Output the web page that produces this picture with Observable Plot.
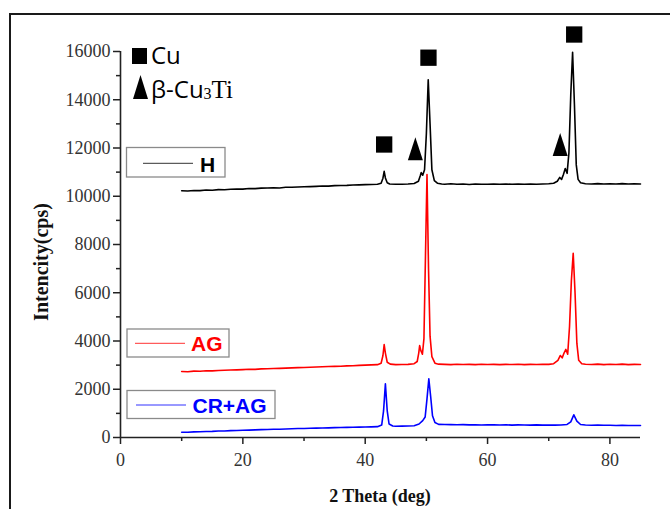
<!DOCTYPE html>
<html>
<head>
<meta charset="utf-8">
<script src="https://cdn.jsdelivr.net/npm/d3@7"></script>
<script src="https://cdn.jsdelivr.net/npm/@observablehq/plot@0.6"></script>
<style>
  html, body { margin: 0; padding: 0; background: #fff; }
  #wrap { position: relative; width: 670px; height: 509px; overflow: hidden; background: #fff; }
  #frame { position: absolute; left: 9px; top: 13px; width: 720px; height: 560px; border: 2px solid #1a1a1a; box-sizing: border-box; pointer-events: none; }
  #chart { position: absolute; left: 0; top: 0; }
</style>
</head>
<body>
<div id="wrap"><div id="chart"></div><div id="frame"></div></div>
<script>
// ---- data ----
const xTicks = [0, 20, 40, 60, 80];
const xMinorTicks = [10, 30, 50, 70];
const yTicks = [0, 2000, 4000, 6000, 8000, 10000, 12000, 14000, 16000];
const yMinorTicks = [1000, 3000, 5000, 7000, 9000, 11000, 13000, 15000];

const seriesNames = ["H", "AG", "CR+AG"];
const seriesColors = ["#000000", "#ff0000", "#0000ff"];

// H (black): [2θ deg, intensity cps]
const hPoints = [[10,10230],[11,10215],[12,10240],[13,10235],[14,10260],[15,10250],[16,10275],[17,10270],[18,10290],[19,10300],[20,10295],[21,10320],[22,10315],[23,10335],[24,10340],[25,10350],[26,10345],[27,10370],[28,10375],[29,10385],[30,10395],[31,10400],[32,10410],[33,10425],[34,10420],[35,10440],[36,10445],[37,10450],[38,10465],[39,10470],[40,10480],[41,10490],[42,10495],[42.6,10540],[42.9,10750],[43.1,11030],[43.3,10760],[43.6,10560],[44,10510],[45,10495],[46,10500],[47,10510],[48,10530],[48.7,10620],[49.0,10850],[49.15,10980],[49.4,10870],[49.7,11100],[50.0,12600],[50.3,14830],[50.6,13000],[50.9,11100],[51.3,10650],[51.8,10540],[52.5,10510],[53,10500],[54,10515],[55,10495],[56,10505],[57,10490],[58,10510],[59,10500],[60,10495],[61,10510],[62,10500],[63,10505],[64,10495],[65,10510],[66,10500],[67,10505],[68,10495],[69,10510],[70,10520],[70.8,10540],[71.4,10620],[71.8,10780],[72.1,10700],[72.4,10900],[72.7,11150],[73.0,10950],[73.3,11800],[73.6,14200],[73.9,15970],[74.2,13800],[74.5,11300],[74.8,10700],[75.2,10560],[76,10520],[77,10510],[78,10525],[79,10505],[80,10520],[81,10510],[82,10525],[83,10505],[84,10515],[85,10510]];

// AG (red)
const agPoints = [[10,2735],[11,2725],[12,2750],[13,2745],[14,2765],[15,2760],[16,2780],[17,2790],[18,2800],[19,2805],[20,2815],[21,2830],[22,2825],[23,2845],[24,2850],[25,2860],[26,2865],[27,2875],[28,2885],[29,2895],[30,2900],[31,2915],[32,2920],[33,2930],[34,2940],[35,2950],[36,2955],[37,2970],[38,2975],[39,2990],[40,3000],[41,3010],[42,3020],[42.6,3080],[42.9,3400],[43.1,3850],[43.3,3500],[43.6,3120],[44.1,3040],[45,3020],[46,3025],[47,3030],[48,3060],[48.5,3150],[48.75,3500],[48.9,3810],[49.1,3600],[49.35,3450],[49.6,4100],[49.85,7500],[50.1,10900],[50.35,7000],[50.6,4200],[50.9,3350],[51.4,3080],[52,3040],[53,3030],[54,3020],[55,3035],[56,3025],[57,3030],[58,3020],[59,3035],[60,3025],[61,3030],[62,3020],[63,3030],[64,3025],[65,3035],[66,3020],[67,3030],[68,3025],[69,3035],[70,3030],[70.8,3060],[71.5,3200],[71.9,3400],[72.2,3300],[72.5,3500],[72.8,3650],[73.1,3450],[73.4,4600],[73.7,6500],[74.0,7640],[74.3,6000],[74.6,3900],[74.9,3200],[75.4,3060],[76,3035],[77,3025],[78,3040],[79,3020],[80,3035],[81,3025],[82,3040],[83,3020],[84,3030],[85,3025]];

// CR+AG (blue)
const crPoints = [[10,220],[11,215],[12,235],[13,240],[14,250],[15,255],[16,270],[17,270],[18,285],[19,290],[20,300],[21,305],[22,315],[23,325],[24,330],[25,340],[26,345],[27,355],[28,360],[29,370],[30,375],[31,385],[32,390],[33,395],[34,400],[35,410],[36,415],[37,420],[38,425],[39,430],[40,435],[41,440],[42,450],[42.7,520],[43.0,1100],[43.3,2225],[43.6,1100],[43.9,560],[44.5,480],[45,465],[46,470],[47,475],[48,490],[48.8,560],[49.4,700],[49.8,850],[50.1,1600],[50.4,2430],[50.7,1700],[51.0,900],[51.4,620],[52,545],[53,540],[54,535],[55,530],[56,535],[57,525],[58,530],[59,520],[60,525],[61,530],[62,520],[63,525],[64,515],[65,525],[66,520],[67,515],[68,525],[69,515],[70,520],[71,515],[72,520],[73,540],[73.6,650],[74.1,940],[74.6,680],[75.2,540],[76,520],[77,510],[78,515],[79,505],[80,510],[81,500],[82,505],[83,495],[84,500],[85,500]];

// phase markers above peaks
const markerDeg = [43.1, 50.34, 74.16, 48.2, 71.87];
const markerCps = [12145, 15743, 16704, 11967, 12145];
const markerPhase = ["Cu", "Cu", "Cu", "β-Cu3Ti", "β-Cu3Ti"];

// ---- build ----
const toRows = (pts, name) => pts.map(([deg, cps]) => ({deg, cps, name}));
const rows = [
  ...toRows(hPoints, seriesNames[0]),
  ...toRows(agPoints, seriesNames[1]),
  ...toRows(crPoints, seriesNames[2])
];
const markers = markerDeg.map((d, i) => ({deg: d, cps: markerCps[i], phase: markerPhase[i]}));

const tallTriangle = {
  draw(ctx, size) {
    const r = Math.sqrt(size / Math.PI);
    ctx.moveTo(0, -1.15 * r);
    ctx.lineTo(0.75 * r, 1.15 * r);
    ctx.lineTo(-0.75 * r, 1.15 * r);
    ctx.closePath();
  }
};

const tickFont = {fontFamily: "'Liberation Serif', 'Times New Roman', serif", fontSize: 18, fill: "#333"};

const chart = Plot.plot({
  width: 670,
  height: 509,
  marginLeft: 120,
  marginRight: 30,
  marginTop: 51,
  marginBottom: 72,
  style: {background: "transparent", overflow: "visible"},
  x: {domain: [0, 85]},
  y: {domain: [0, 16000]},
  color: {domain: seriesNames, range: seriesColors},
  marks: [
    Plot.axisX({ticks: xTicks, tickSize: 7, tickPadding: 9, tickFormat: d => String(d), label: null, stroke: "#222", strokeWidth: 1.5, ...tickFont}),
    Plot.axisX({ticks: xMinorTicks, tickSize: 4, text: null, label: null, stroke: "#222", strokeWidth: 1.5}),
    Plot.axisY({ticks: yTicks, tickSize: 7, tickPadding: 3, tickFormat: d => String(d), label: null, stroke: "#222", strokeWidth: 1.5, ...tickFont}),
    Plot.axisY({ticks: yMinorTicks, tickSize: 4, text: null, label: null, stroke: "#222", strokeWidth: 1.5}),
    Plot.ruleY([0], {stroke: "#222", strokeWidth: 1.6}),
    Plot.ruleX([0], {stroke: "#222", strokeWidth: 1.6}),
    Plot.line(rows, {x: "deg", y: "cps", z: "name", stroke: "name", strokeWidth: 1.6, curve: "linear"}),
    Plot.dot(markers.filter(m => m.phase === "Cu"), {x: "deg", y: "cps", symbol: "square", r: 9.2, fill: "#000", stroke: "none"}),
    Plot.dot(markers.filter(m => m.phase !== "Cu"), {x: "deg", y: "cps", symbol: tallTriangle, r: 10, fill: "#000", stroke: "none"})
  ]
});
document.getElementById("chart").appendChild(chart);

// ---- annotations: axis titles and legends ----
const svg = d3.select(chart);
const serif = "'Liberation Serif', 'Times New Roman', serif";
const sans = "'Liberation Sans', Arial, sans-serif";

svg.append("text")
  .attr("transform", "translate(41,262) rotate(-90)")
  .attr("text-anchor", "middle").attr("dominant-baseline", "central")
  .attr("font-family", serif).attr("font-weight", "bold").attr("font-size", 20).attr("fill", "#111")
  .text("Intencity(cps)");

svg.append("text")
  .attr("x", 380).attr("y", 502)
  .attr("text-anchor", "middle")
  .attr("font-family", serif).attr("font-weight", "bold").attr("font-size", 18).attr("fill", "#111")
  .text("2 Theta (deg)");

// series legend boxes
const boxes = [
  {x: 126.5, y: 147.5, w: 98.5, h: 29.5, lx1: 143, lx2: 193, ly: 163.3, tx: 200, ty: 171.5},
  {x: 127, y: 329, w: 102, h: 28, lx1: 135, lx2: 185, ly: 343.3, tx: 191, ty: 351},
  {x: 127, y: 390.5, w: 148, h: 28, lx1: 136, lx2: 186, ly: 405, tx: 192.5, ty: 412.5}
];
boxes.forEach((b, i) => {
  const g = svg.append("g");
  g.append("rect").attr("x", b.x).attr("y", b.y).attr("width", b.w).attr("height", b.h)
    .attr("fill", "#fff").attr("stroke", "#8a8a8a").attr("stroke-width", 1.3);
  g.append("line").attr("x1", b.lx1).attr("x2", b.lx2).attr("y1", b.ly).attr("y2", b.ly)
    .attr("stroke", seriesColors[i]).attr("stroke-width", 1).attr("opacity", 0.8);
  g.append("text").attr("x", b.tx).attr("y", b.ty).attr("text-anchor", "start")
    .attr("font-family", sans).attr("font-weight", "bold").attr("font-size", 21)
    .attr("fill", seriesColors[i]).text(seriesNames[i]);
});

// phase legend
const osans = "'Open Sans', 'Noto Sans', sans-serif";
svg.append("rect").attr("x", 132).attr("y", 48).attr("width", 15).attr("height", 16).attr("fill", "#000");
svg.append("text").attr("x", 151).attr("y", 64).attr("text-anchor", "start")
  .attr("font-family", osans).attr("font-size", 24).attr("fill", "#000").text("Cu");
svg.append("path").attr("d", "M140.5,75 L148,99 L133,99 Z").attr("fill", "#000");
const t2 = svg.append("text").attr("x", 151).attr("y", 98).attr("text-anchor", "start")
  .attr("font-family", osans).attr("font-size", 24).attr("fill", "#000");
t2.append("tspan").text("β-Cu");
t2.append("tspan").attr("font-family", serif).attr("font-size", 16).attr("dy", 1).text("3");
t2.append("tspan").attr("font-family", serif).attr("font-size", 25).attr("dy", -1).text("Ti");
</script>
</body>
</html>
